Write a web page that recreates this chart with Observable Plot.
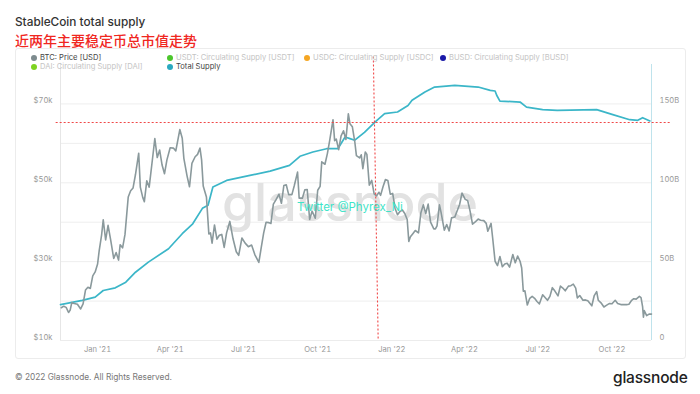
<!DOCTYPE html>
<html><head><meta charset="utf-8">
<script src="https://cdn.jsdelivr.net/npm/d3@7"></script>
<script src="https://cdn.jsdelivr.net/npm/@observablehq/plot@0.6"></script>
<style>
body{margin:0;width:700px;height:394px;background:#fff;position:relative;overflow:hidden;font-family:Inter,"Noto Sans",sans-serif;}
#title{position:absolute;left:15px;top:15px;font-size:11.8px;font-weight:500;color:#333;}
#subtitle{position:absolute;left:15px;top:32px;font-size:14px;font-weight:500;color:#f0271f;font-family:"Noto Sans CJK SC",sans-serif;line-height:17px;}
#box{position:absolute;left:15px;top:48px;width:669px;height:309px;border:1px solid #ececec;border-radius:3px;}
#chart{position:absolute;left:0;top:0;}
.lg{position:absolute;font-size:7.6px;white-space:nowrap;line-height:10px;}
.lg i{display:inline-block;width:6px;height:6px;border-radius:50%;margin-right:3px;vertical-align:-0.5px;}
#footer{position:absolute;left:15px;top:372px;font-size:8.3px;color:#777;}
#logo{position:absolute;left:613px;top:368px;font-size:15.5px;color:#222;font-weight:500;letter-spacing:-0.2px;}
</style></head><body>
<div id="title">StableCoin total supply</div>
<div id="subtitle">近两年主要稳定币总市值走势</div>
<div id="box"></div>
<div id="chart"></div>
<div id="legend"></div>
<div id="footer">© 2022 Glassnode. All Rights Reserved.</div>
<div id="logo">glassnode</div>
<script>
// BTC price, thousand USD
const btcSeries = [
["2020-11-17",18.3],["2020-11-20",18.7],["2020-11-23",18.4],["2020-11-26",17.1],["2020-11-28",17.7],["2020-11-30",19.6],
["2020-12-03",19.4],["2020-12-07",19.2],["2020-12-11",18.0],["2020-12-14",19.3],["2020-12-17",22.8],["2020-12-20",23.5],
["2020-12-23",23.2],["2020-12-26",26.4],["2020-12-29",27.4],["2021-01-01",29.4],["2021-01-03",32.8],["2021-01-06",36.8],
["2021-01-08",40.6],["2021-01-11",35.5],["2021-01-14",39.2],["2021-01-17",35.8],["2021-01-21",30.8],["2021-01-24",32.3],
["2021-01-27",30.4],["2021-01-29",34.3],["2021-02-01",33.5],["2021-02-04",36.9],["2021-02-08",46.4],["2021-02-11",48.0],
["2021-02-14",48.7],["2021-02-17",52.1],["2021-02-21",57.5],["2021-02-23",48.9],["2021-02-26",46.3],["2021-02-28",45.2],
["2021-03-03",50.5],["2021-03-06",48.9],["2021-03-10",55.9],["2021-03-13",61.2],["2021-03-16",56.4],["2021-03-19",58.3],
["2021-03-22",54.5],["2021-03-25",52.3],["2021-03-28",55.8],["2021-04-01",58.9],["2021-04-05",58.8],["2021-04-08",58.1],
["2021-04-13",63.5],["2021-04-16",61.3],["2021-04-18",56.2],["2021-04-22",51.7],["2021-04-25",49.0],["2021-04-28",54.9],
["2021-05-02",56.6],["2021-05-05",57.2],["2021-05-08",58.8],["2021-05-10",55.8],["2021-05-12",49.2],["2021-05-16",46.4],
["2021-05-19",37.0],["2021-05-21",37.3],["2021-05-23",34.7],["2021-05-26",39.3],["2021-05-29",35.7],["2021-06-01",36.7],
["2021-06-04",36.9],["2021-06-07",33.6],["2021-06-10",37.3],["2021-06-14",40.2],["2021-06-18",35.8],["2021-06-22",32.5],
["2021-06-25",31.6],["2021-06-29",36.0],["2021-07-03",34.7],["2021-07-07",33.8],["2021-07-11",34.2],["2021-07-15",31.8],
["2021-07-20",29.8],["2021-07-23",33.6],["2021-07-26",37.3],["2021-07-29",40.0],["2021-08-01",39.9],["2021-08-04",39.7],
["2021-08-07",44.6],["2021-08-10",45.6],["2021-08-14",47.1],["2021-08-17",44.8],["2021-08-20",49.3],["2021-08-23",49.5],
["2021-08-26",47.0],["2021-08-30",47.0],["2021-09-02",49.3],["2021-09-06",52.7],["2021-09-08",46.1],["2021-09-12",46.1],
["2021-09-15",48.2],["2021-09-18",48.3],["2021-09-21",40.7],["2021-09-24",42.8],["2021-09-28",41.0],["2021-10-01",48.1],
["2021-10-04",49.1],["2021-10-06",55.3],["2021-10-10",54.7],["2021-10-13",57.4],["2021-10-16",60.9],["2021-10-20",66.0],
["2021-10-22",60.7],["2021-10-24",61.1],["2021-10-27",58.4],["2021-10-30",61.9],["2021-11-02",63.2],["2021-11-05",61.0],
["2021-11-08",67.5],["2021-11-10",65.0],["2021-11-13",64.2],["2021-11-16",60.4],["2021-11-18",56.9],["2021-11-22",56.3],
["2021-11-24",57.1],["2021-11-26",53.6],["2021-11-29",57.8],["2021-12-01",57.2],["2021-12-04",49.4],["2021-12-07",50.6],
["2021-12-10",47.2],["2021-12-13",46.7],["2021-12-16",47.6],["2021-12-18",46.8],["2021-12-21",49.0],["2021-12-24",50.8],
["2021-12-27",50.6],["2021-12-30",47.1],["2022-01-02",47.3],["2022-01-05",43.5],["2022-01-08",41.9],["2022-01-11",42.7],
["2022-01-14",43.1],["2022-01-17",42.2],["2022-01-20",40.7],["2022-01-22",35.1],["2022-01-24",36.3],["2022-01-27",37.1],
["2022-01-30",37.9],["2022-02-03",37.3],["2022-02-06",42.4],["2022-02-09",44.4],["2022-02-12",42.2],["2022-02-15",44.6],
["2022-02-18",40.0],["2022-02-22",38.3],["2022-02-24",38.3],["2022-02-26",39.1],["2022-03-01",44.4],["2022-03-03",42.5],
["2022-03-07",38.0],["2022-03-10",39.4],["2022-03-13",37.8],["2022-03-16",41.1],["2022-03-20",41.3],["2022-03-23",42.9],
["2022-03-26",44.5],["2022-03-29",47.4],["2022-04-02",45.8],["2022-04-05",45.5],["2022-04-08",42.8],["2022-04-11",39.5],
["2022-04-14",40.0],["2022-04-18",40.8],["2022-04-21",40.5],["2022-04-25",40.4],["2022-04-28",39.7],["2022-04-30",37.7],
["2022-05-04",39.7],["2022-05-06",36.0],["2022-05-09",30.1],["2022-05-12",29.0],["2022-05-15",31.3],["2022-05-18",28.7],
["2022-05-21",29.4],["2022-05-24",29.6],["2022-05-27",28.6],["2022-05-31",31.8],["2022-06-03",29.7],["2022-06-06",31.4],
["2022-06-09",30.1],["2022-06-11",28.4],["2022-06-13",22.5],["2022-06-15",22.6],["2022-06-18",19.0],["2022-06-21",20.7],
["2022-06-24",21.2],["2022-06-27",20.7],["2022-06-30",19.9],["2022-07-03",19.3],["2022-07-07",21.6],["2022-07-10",20.9],
["2022-07-13",20.2],["2022-07-16",21.2],["2022-07-19",23.4],["2022-07-22",22.6],["2022-07-26",21.3],["2022-07-29",23.8],
["2022-08-01",23.3],["2022-08-04",22.6],["2022-08-08",23.8],["2022-08-11",23.9],["2022-08-14",24.3],["2022-08-17",23.3],
["2022-08-19",20.8],["2022-08-22",21.4],["2022-08-26",20.2],["2022-08-29",20.3],["2022-09-01",20.1],["2022-09-06",18.8],
["2022-09-09",21.4],["2022-09-12",22.4],["2022-09-14",20.2],["2022-09-18",19.4],["2022-09-21",18.5],["2022-09-24",18.9],
["2022-09-28",19.4],["2022-10-01",19.3],["2022-10-05",20.2],["2022-10-08",19.4],["2022-10-12",19.1],["2022-10-15",19.1],
["2022-10-19",19.1],["2022-10-22",19.2],["2022-10-25",20.1],["2022-10-28",20.6],["2022-10-31",20.5],["2022-11-04",21.2],
["2022-11-06",20.9],["2022-11-08",18.5],["2022-11-09",15.9],["2022-11-10",17.6],["2022-11-13",16.3],["2022-11-16",16.7],
["2022-11-19",16.7]
];
// Total stablecoin supply, billion USD
const supplySeries = [
["2020-11-16",22.8],["2020-12-13",25.4],["2020-12-29",27.5],["2021-01-08",31.7],["2021-01-23",33.4],["2021-02-05",37.0],
["2021-02-17",43.3],["2021-03-05",49.7],["2021-03-30",58.2],["2021-04-16",67.7],["2021-04-29",74.0],["2021-05-11",83.8],
["2021-05-18",85.7],["2021-05-24",97.3],["2021-06-10",101.5],["2021-07-09",104.7],["2021-08-03",107.4],["2021-08-27",111.0],
["2021-09-09",116.8],["2021-09-25",119.5],["2021-10-12",121.6],["2021-10-26",121.6],["2021-11-04",129.0],["2021-11-10",128.0],
["2021-11-16",127.0],["2021-11-28",132.0],["2021-12-11",138.5],["2021-12-23",143.8],["2022-01-08",144.9],["2022-01-21",149.0],
["2022-01-26",152.3],["2022-02-11",157.6],["2022-02-23",160.7],["2022-03-20",161.8],["2022-04-18",160.7],["2022-05-03",158.6],
["2022-05-09",158.2],["2022-05-11",155.5],["2022-05-15",151.8],["2022-06-09",151.2],["2022-06-17",148.0],["2022-07-07",146.4],
["2022-07-25",145.9],["2022-09-12",146.4],["2022-10-02",143.2],["2022-10-23",140.0],["2022-11-02",139.6],["2022-11-08",141.3],
["2022-11-17",139.2]
];
const xDomain = ["2020-11-16","2022-11-19"];
const xTicks = ["2021-01-01","2021-04-01","2021-07-01","2021-10-01","2022-01-01","2022-04-01","2022-07-01","2022-10-01"];
const leftTicks = [10,30,50,70];           // $k
const rightTicks = [0,50,100,150];        // billions
const rightLabels = ["0","50B","100B","150B"];
const gridValues = [20,30,40,50,60,70];
// hand-drawn red reference lines
const refVertical = [{x1:"2021-12-09",y1:82,x2:"2021-12-15",y2:10}];
const refHorizontal = [{x1:"2020-11-10",x2:"2022-12-13",y:65.3}];
const legendNames = ["BTC: Price [USD]","USDT: Circulating Supply [USDT]","USDC: Circulating Supply [USDC]","BUSD: Circulating Supply [BUSD]","DAI: Circulating Supply [DAI]","Total Supply"];
const legendColors = ["#7d8b8e","#4cc62c","#f5a623","#1a1aa8","#7ed321","#2aa9c0"];
const legendActive = [true,false,false,false,false,true];

const parse = d3.utcParse("%Y-%m-%d");
// map supply (B) onto BTC axis: 0B <-> $10k, 50B <-> $30k
const toY = b => 10 + b / 2.5;
const btc = btcSeries.map(([d,v]) => ({date: parse(d), v}));
const sup = supplySeries.map(([d,v]) => ({date: parse(d), v: toY(v)}));
const vlines = refVertical.map(r => ({x1: parse(r.x1), x2: parse(r.x2), y1: r.y1, y2: r.y2}));
const hlines = refHorizontal.map(r => ({x1: parse(r.x1), x2: parse(r.x2), y: r.y}));

const plot = Plot.plot({
  width: 700, height: 360,
  marginTop: 64, marginBottom: 20, marginLeft: 60, marginRight: 49,
  x: {type: "utc", domain: xDomain.map(parse)},
  y: {domain: [10, 80]},
  style: {fontFamily: "Inter, 'Noto Sans', sans-serif", fontSize: "7.6px", color: "#999", background: "transparent", overflow: "visible"},
  marks: [
    Plot.gridY(gridValues, {stroke: "#eeeeee", strokeOpacity: 1}),
    Plot.ruleY([10], {stroke: "#ececec"}),
    Plot.ruleX([parse(xDomain[0])], {stroke: "#e6e6e6", y1: 10, y2: 80.3}),
    Plot.ruleX([parse(xDomain[1])], {stroke: "#bfe3ec", y1: 10, y2: 80}),
    Plot.text(["glassnode"], {frameAnchor: "middle", dx: -6, dy: 2, fontSize: 52, fill: "#e2e2e2", fontWeight: 500, fontFamily: "Inter, sans-serif"}),
    Plot.axisY(leftTicks, {anchor: "left", tickSize: 0, tickPadding: 8, dy: -3, tickFormat: d => "$" + d + "k", label: null}),
    Plot.axisY(rightTicks.map(toY), {anchor: "right", tickSize: 0, tickPadding: 8, dy: -3, tickFormat: (d, i) => rightLabels[i], label: null}),
    Plot.axisX(xTicks.map(parse), {tickSize: 0, tickPadding: 6, tickFormat: d3.utcFormat("%b '%y"), label: null}),
    Plot.line(sup, {x: "date", y: "v", stroke: "#3bb6c8", strokeWidth: 1.7}),
    Plot.line(btc, {x: "date", y: "v", stroke: "#8a999c", strokeWidth: 1.6}),
    Plot.text(["Twitter @Phyrex_Ni"], {frameAnchor: "middle", dx: -6, dy: 5, fontSize: 11.5, fill: "#3fe4c8", fontFamily: "Inter, sans-serif"}),
    Plot.link(vlines, {x1: "x1", y1: "y1", x2: "x2", y2: "y2", stroke: "#f04848", strokeWidth: 1.1, strokeDasharray: "2,2"}),
    Plot.link(hlines, {x1: "x1", y1: "y", x2: "x2", y2: "y", stroke: "#f04848", strokeWidth: 1.1, strokeDasharray: "2,2"})
  ]
});
document.getElementById("chart").appendChild(plot);

const legendPos = [[31,53],[167,53],[304,53],[440,53],[31,62],[167,62]];
const lg = document.getElementById("legend");
legendNames.forEach((name, i) => {
  const el = document.createElement("div");
  el.className = "lg";
  el.style.left = legendPos[i][0] + "px";
  el.style.top = legendPos[i][1] + "px";
  el.style.color = legendActive[i] ? "#444" : "#c4c4c4";
  el.innerHTML = `<i style="background:${legendColors[i]}"></i>${name}`;
  lg.appendChild(el);
});
</script>
</body></html>
